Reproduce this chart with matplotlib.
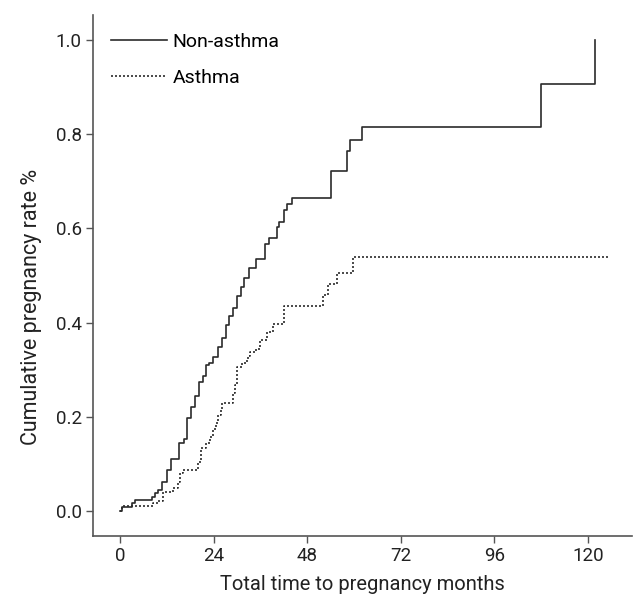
#!/usr/bin/env python

"""
Cumulative pregnancy rate by asthma status (step curves).
"""

import numpy as np
import matplotlib
matplotlib.use("Agg")
import matplotlib.pyplot as plt

# event times (months) and cumulative rate after each step
non_asthma_t = [0, 0.6, 3.0, 3.8, 8.1, 9.0, 9.8, 10.9, 12.0, 13.1, 15.2, 16.3,
                17.2, 18.1, 19.2, 20.3, 21.4, 22.0, 22.9, 23.9, 25.2, 26.2,
                27.1, 27.9, 28.9, 29.9, 31.0, 31.9, 33.2, 35.0, 37.2, 38.3,
                40.2, 40.9, 42.1, 42.9, 44.2, 54.0, 58.3, 59.1, 62.0, 108.0,
                121.8]
non_asthma_y = [0.0, 0.009, 0.018, 0.023, 0.030, 0.038, 0.045, 0.062, 0.088,
                0.110, 0.144, 0.152, 0.197, 0.220, 0.244, 0.275, 0.287, 0.311,
                0.315, 0.326, 0.349, 0.367, 0.395, 0.414, 0.432, 0.456, 0.475,
                0.494, 0.515, 0.535, 0.567, 0.579, 0.604, 0.614, 0.639, 0.651,
                0.665, 0.722, 0.765, 0.788, 0.815, 0.906, 1.0]

asthma_t = [0, 0.6, 8.5, 9.8, 11.1, 13.5, 15.0, 15.3, 16.2, 20.1, 20.9, 22.1,
            23.1, 23.9, 24.6, 25.2, 25.9, 26.1, 29.1, 29.4, 30.1, 31.4, 32.5,
            32.9, 33.3, 35.0, 35.9, 37.8, 39.3, 42.0, 52.0, 53.3, 55.7, 59.7,
            125.2]
asthma_y = [0.0, 0.010, 0.018, 0.021, 0.041, 0.048, 0.062, 0.081, 0.087,
            0.105, 0.133, 0.144, 0.158, 0.175, 0.186, 0.204, 0.214, 0.229,
            0.250, 0.268, 0.306, 0.315, 0.321, 0.330, 0.338, 0.345, 0.363,
            0.381, 0.398, 0.435, 0.459, 0.482, 0.506, 0.540, 0.540]

x_ticks = [0, 24, 48, 72, 96, 120]
y_ticks = [0.0, 0.2, 0.4, 0.6, 0.8, 1.0]


def main():
    plt.rcParams['font.family'] = ['Roboto', 'DejaVu Sans']
    plt.rcParams['font.size'] = 13.5

    fig = plt.figure(figsize=(6.38, 5.94), dpi=100)
    ax = fig.add_axes([0.1458, 0.0976, 0.8448, 0.8771])

    line_col = '#2b2b2b'
    ax.step(non_asthma_t, non_asthma_y, where='post', color=line_col,
            linewidth=1.2, label='Non-asthma')
    ax.step(asthma_t, asthma_y, where='post', color=line_col,
            linewidth=1.2, linestyle=(0, (1.2, 1.2)), label='Asthma')

    ax.set_xlim(-6.9, 131.3)
    ax.set_ylim(-0.053, 1.053)
    ax.set_xticks(x_ticks)
    ax.set_yticks(y_ticks)
    ax.set_yticklabels([f"{v:.1f}" for v in y_ticks])

    for side in ('top', 'right'):
        ax.spines[side].set_visible(False)
    for side in ('left', 'bottom'):
        ax.spines[side].set_color('#555555')
        ax.spines[side].set_linewidth(1.2)
    ax.tick_params(direction='out', length=5, width=1.0, color='#555555',
                   labelcolor='#222222', pad=3)

    ax.set_xlabel('Total time to pregnancy months', color='#222222',
                  fontsize=14.5, labelpad=7)
    ax.set_ylabel('Cumulative pregnancy rate %', color='#222222',
                  fontsize=15.5)
    ax.yaxis.set_label_coords(-0.095, 0.44)

    ax.legend(loc='upper left', frameon=False, fontsize=14,
              handlelength=2.9, handletextpad=0.3, labelspacing=0.95,
              bbox_to_anchor=(0.0, 1.0))

    plt.savefig("out.png", dpi=100)


if __name__ == "__main__":
    main()
